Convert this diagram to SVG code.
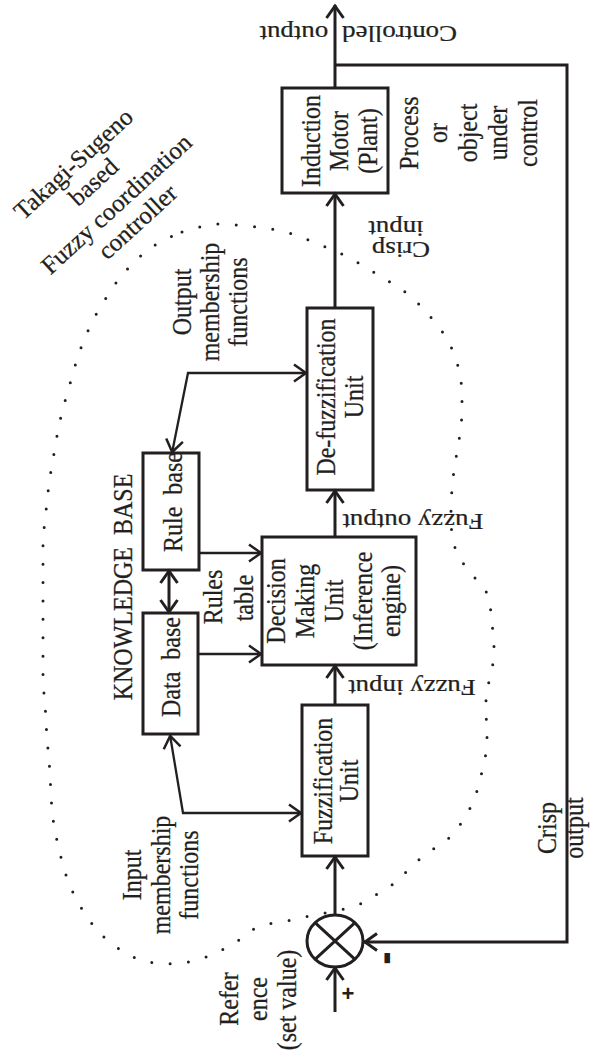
<svg xmlns="http://www.w3.org/2000/svg" width="591" height="1053" viewBox="0 0 591 1053">
<style>
.t{font-family:"Liberation Serif","Times New Roman",serif;font-size:24px;fill:#231f20;stroke:#231f20;stroke-width:0.25}
.d{font-family:"Liberation Serif","Times New Roman",serif;font-size:25px;fill:#231f20;stroke:#231f20;stroke-width:0.25}
.s{font-family:"Liberation Sans",Arial,sans-serif;font-weight:bold;fill:#231f20}
.box{fill:none;stroke:#231f20;stroke-width:3}
.sig{fill:none;stroke:#231f20;stroke-width:3}
.kb{fill:none;stroke:#231f20;stroke-width:2.3}
.dots{fill:none;stroke:#231f20;stroke-width:3;stroke-linecap:round;stroke-dasharray:0 18.4}
</style>
<defs>
<marker id="ah" viewBox="-14 -11 16 22" refX="1" refY="0" markerWidth="16" markerHeight="22" markerUnits="userSpaceOnUse" orient="auto-start-reverse" overflow="visible"><path d="M-12,-8.5 L0,0 L-12,8.5" fill="none" stroke="#231f20" stroke-width="3"/></marker>
<marker id="ahs" viewBox="-14 -11 16 22" refX="1" refY="0" markerWidth="16" markerHeight="22" markerUnits="userSpaceOnUse" orient="auto-start-reverse" overflow="visible"><path d="M-12,-8.5 L0,0 L-12,8.5" fill="none" stroke="#231f20" stroke-width="2.5"/></marker>
</defs>
<rect width="591" height="1053" fill="#ffffff"/>

<g id="boundary">
<path class="dots" d="M182,232 L200,227 L218,224 L238,225 L258,227 L277,230 L297,235 L315,243 L333,250 L350,258 L367,268 L383,278 L400,288 L415,300 L428,314 L440,328 L450,344 L457,362 L461,379 L462,397 L462,416 L460,434 L457,452 L454,470 L452,488 L451,506 L451,525 L453,543 L460,559 L472,575 L485,588 L490,604 L492,623 L494,641 L494,659 L490,677 L486,695 L486,713 L487,732 L487,749 L483,767 L479,785 L473,803 L464,819 L453,835 L438,846 L423,856 L409,869 L395,883 L379,893 L363,903 L345,909 L325,913 L305,917 L287,921 L268,924 L254,929 L239,940 L222,950 L204,958 L185,963 L166,964 L146,962 L128,955 L112,944 L98,932 L87,917 L77,901 L69,884 L63,866 L55,832 L52,812 L49,758 L47,740 L46,721 L45,703 L43,684 L43,593 L43,557 L43,538 L45,520 L47,502 L49,483 L52,465 L55,448 L58,430 L62,412 L67,394 L72,377 L77,359 L83,342 L91,324 L100,307 L110,292 L120,277 L133,263 L147,250 L163,240 Z"/>
</g>

<g id="title">
<text class="d" text-anchor="middle" transform="translate(79,170) rotate(-42.5)">Takagi-Sugeno</text>
<text class="d" text-anchor="middle" transform="translate(99,188) rotate(-42.5)">based</text>
<text class="d" text-anchor="middle" transform="translate(122,210) rotate(-42.5)">Fuzzy coordination</text>
<text class="d" text-anchor="middle" transform="translate(143,228) rotate(-42.5)">controller</text>
</g>

<g id="connectors">
<path class="sig" d="M335,1012 V967" marker-end="url(#ah)"/>
<path class="sig" d="M335,915 V856" marker-end="url(#ah)"/>
<path class="sig" d="M335,705 V665" marker-end="url(#ah)"/>
<path class="sig" d="M335,537 V490" marker-end="url(#ah)"/>
<path class="sig" d="M335,308 V193" marker-end="url(#ah)"/>
<path class="sig" d="M335,88 V5" marker-end="url(#ah)"/>
<path class="sig" d="M335,65 H567 V942 H364" marker-end="url(#ah)"/>
<path class="kb" d="M199,553 H262" marker-end="url(#ahs)"/>
<path class="kb" d="M198,654 H262" marker-end="url(#ahs)"/>
<path class="sig" d="M169,570 V613" marker-start="url(#ah)" marker-end="url(#ah)"/>
<path class="kb" d="M307,373 H188 L172,453" marker-start="url(#ahs)" marker-end="url(#ahs)"/>
<path class="kb" d="M302,813 H183 L170,735" marker-start="url(#ahs)" marker-end="url(#ahs)"/>
</g>

<g id="summing">
<ellipse class="box" cx="335" cy="941" rx="28" ry="26"/>
<path class="sig" d="M315,922.6 L355,959.4 M355,922.6 L315,959.4"/>
<text class="s" font-size="22" text-anchor="middle" x="348" y="1001">+</text>
<text class="s" font-size="40" text-anchor="middle" transform="translate(399,958) scale(1.15,1) rotate(-90)">-</text>
</g>

<g id="reference">
<text class="t" text-anchor="middle" transform="translate(238,999) scale(1.15,1) rotate(-90)">Refer</text>
<text class="t" text-anchor="middle" transform="translate(267,999) scale(1.15,1) rotate(-90)">ence</text>
<text class="t" text-anchor="middle" transform="translate(296,1000) scale(1.15,1) rotate(-90)">(set value)</text>
</g>

<g id="fuzzification">
<rect class="box" x="302" y="705" width="66" height="151"/>
<text class="t" text-anchor="middle" transform="translate(332,781) scale(1.15,1) rotate(-90)">Fuzzification</text>
<text class="t" text-anchor="middle" transform="translate(358,781) scale(1.15,1) rotate(-90)">Unit</text>
</g>

<g id="decision">
<rect class="box" x="262" y="537" width="154" height="128"/>
<text class="t" text-anchor="middle" transform="translate(285,601) scale(1.15,1) rotate(-90)">Decision</text>
<text class="t" text-anchor="middle" transform="translate(314,601) scale(1.15,1) rotate(-90)">Making</text>
<text class="t" text-anchor="middle" transform="translate(343,601) scale(1.15,1) rotate(-90)">Unit</text>
<text class="t" text-anchor="middle" transform="translate(372,601) scale(1.15,1) rotate(-90)">(Inference</text>
<text class="t" text-anchor="middle" transform="translate(400,601) scale(1.15,1) rotate(-90)">engine)</text>
</g>

<g id="defuzzification">
<rect class="box" x="307" y="308" width="66" height="182"/>
<text class="t" text-anchor="middle" transform="translate(335,397) scale(1.15,1) rotate(-90)">De-fuzzification</text>
<text class="t" text-anchor="middle" transform="translate(363,397) scale(1.15,1) rotate(-90)">Unit</text>
</g>

<g id="motor">
<rect class="box" x="282" y="88" width="106" height="105"/>
<text class="t" text-anchor="middle" transform="translate(320,141) scale(1.15,1) rotate(-90)">Induction</text>
<text class="t" text-anchor="middle" transform="translate(348,141) scale(1.15,1) rotate(-90)">Motor</text>
<text class="t" text-anchor="middle" transform="translate(377,141) scale(1.15,1) rotate(-90)">(Plant)</text>
</g>

<g id="knowledge-base">
<text class="t" text-anchor="middle" xml:space="preserve" transform="translate(132,587) scale(1.15,1) rotate(-90)">KNOWLEDGE  BASE</text>
</g>

<g id="rule-base">
<rect class="box" x="143" y="453" width="56" height="117"/>
<text class="t" text-anchor="middle" xml:space="preserve" transform="translate(182,502) scale(1.15,1) rotate(-90)">Rule  base</text>
</g>

<g id="data-base">
<rect class="box" x="143" y="613" width="55" height="121"/>
<text class="t" text-anchor="middle" xml:space="preserve" transform="translate(180,667) scale(1.15,1) rotate(-90)">Data  base</text>
</g>

<g id="labels">
<text class="t" text-anchor="middle" transform="translate(222,597) scale(1.15,1) rotate(-90)">Rules</text>
<text class="t" text-anchor="middle" transform="translate(253,598) scale(1.15,1) rotate(-90)">table</text>

<text class="t" text-anchor="middle" transform="translate(191,302) scale(1.15,1) rotate(-90)">Output</text>
<text class="t" text-anchor="middle" transform="translate(219,302) scale(1.15,1) rotate(-90)">membership</text>
<text class="t" text-anchor="middle" transform="translate(247,302) scale(1.15,1) rotate(-90)">functions</text>

<text class="t" text-anchor="middle" transform="translate(141,875) scale(1.15,1) rotate(-90)">Input</text>
<text class="t" text-anchor="middle" transform="translate(170,875) scale(1.15,1) rotate(-90)">membership</text>
<text class="t" text-anchor="middle" transform="translate(198,875) scale(1.15,1) rotate(-90)">functions</text>

<text class="t" text-anchor="middle" transform="translate(418,133) scale(1.15,1) rotate(-90)">Process</text>
<text class="t" text-anchor="middle" transform="translate(447,133) scale(1.15,1) rotate(-90)">or</text>
<text class="t" text-anchor="middle" transform="translate(477,133) scale(1.15,1) rotate(-90)">object</text>
<text class="t" text-anchor="middle" transform="translate(507,133) scale(1.15,1) rotate(-90)">under</text>
<text class="t" text-anchor="middle" transform="translate(537,133) scale(1.15,1) rotate(-90)">control</text>

<text class="t" text-anchor="middle" transform="translate(556,828) scale(1.15,1) rotate(-90)">Crisp</text>
<text class="t" text-anchor="middle" transform="translate(583,828) scale(1.15,1) rotate(-90)">output</text>

<text class="t" transform="translate(457,26) scale(1.12,1) rotate(180)">Controlled<tspan x="115">output</tspan></text>
<text class="t" text-anchor="middle" transform="translate(401,242) scale(1.12,1) rotate(180)">Crisp</text>
<text class="t" text-anchor="middle" transform="translate(396,221) scale(1.12,1) rotate(180)">input</text>
<text class="t" text-anchor="middle" transform="translate(413,514) scale(1.12,1) rotate(180)">Fuzzy output</text>
<text class="t" text-anchor="middle" transform="translate(412,680) scale(1.12,1) rotate(180)">Fuzzy input</text>
</g>
</svg>
